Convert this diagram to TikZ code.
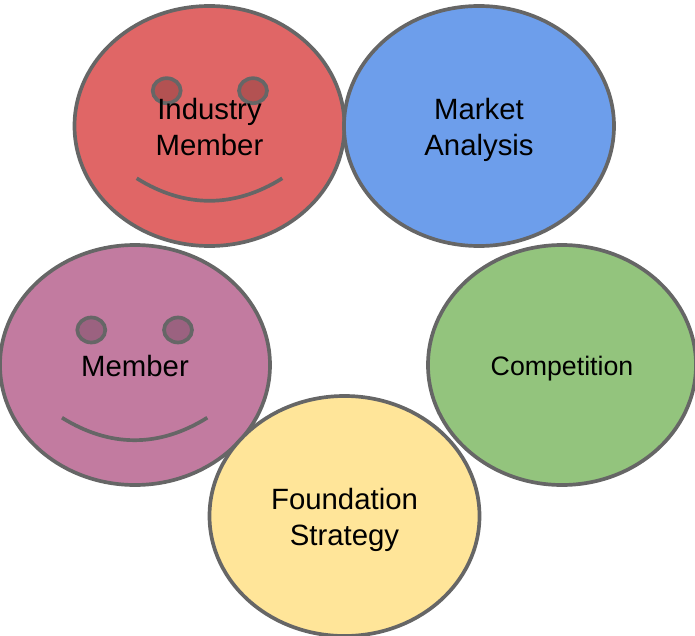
\documentclass[tikz,border=0pt]{standalone}
\usepackage{fontspec}
\setmainfont{Liberation Sans}
\usetikzlibrary{shapes.geometric}
\definecolor{edgegray}{HTML}{666666}
\definecolor{facered}{HTML}{E06666}
\definecolor{faceblue}{HTML}{6D9EEB}
\definecolor{facepurple}{HTML}{C27BA0}
\definecolor{facegreen}{HTML}{93C47D}
\definecolor{faceyellow}{HTML}{FFE599}
\definecolor{eyered}{HTML}{B35252}
\definecolor{eyepurple}{HTML}{9B6280}

\begin{document}
\begin{tikzpicture}[scale=0.2]
            \tikzstyle{face}=[draw=edgegray, line width=2.1pt, ellipse, inner sep=0pt, outer sep=0pt, minimum width=5.4cm, minimum height=4.8cm]
            \tikzstyle{eye}=[draw=edgegray, line width=2.1pt, ellipse, inner sep=0pt, outer sep=0pt, minimum width=0.56cm, minimum height=0.5cm]
            \tikzstyle{facetext}=[inner sep=0pt, align=center, text=black, font=\fontsize{16.7}{20.4}\selectfont]
            \tikzstyle{smile}=[draw=edgegray, line width=2.1pt]
            \useasboundingbox (0,0) rectangle (69.5,-63.6);
            \node [face, fill=facered] (redface) at (20.95,-12.6) {};
            \node [face, fill=faceblue] (blueface) at (47.9,-12.6) {};
            \node [face, fill=facegreen, minimum width=5.36cm] (greenface) at (56.2,-36.5) {};
            \node [face, fill=facepurple] (purpleface) at (13.5,-36.5) {};
            \node [face, fill=faceyellow] (yellowface) at (34.45,-51.6) {};
            \node [eye, fill=eyered] (redeyeleft) at (16.67,-9.07) {};
            \node [eye, fill=eyered] (redeyeright) at (25.3,-9.07) {};
            \node [eye, fill=eyepurple] (purpleeyeleft) at (9.13,-33) {};
            \node [eye, fill=eyepurple] (purpleeyeright) at (17.8,-33) {};
            \coordinate (redsmileleft) at (13.67,-17.83);
            \coordinate (redsmileright) at (28.23,-17.83);
            \coordinate (purplesmileleft) at (6.2,-41.77);
            \coordinate (purplesmileright) at (20.73,-41.77);
            \draw [smile] (redsmileleft) .. controls +(4.8,-3) and +(-4.8,-3) .. (redsmileright);
            \draw [smile] (purplesmileleft) .. controls +(4.8,-3) and +(-4.8,-3) .. (purplesmileright);
            \node [facetext] (redlabel) at (20.95,-12.7) {Industry\\Member};
            \node [facetext] (bluelabel) at (47.9,-13) {Market\\Analysis};
            \node [facetext, font=\fontsize{15.2}{20.4}\selectfont] (greenlabel) at (56.2,-36.85) {Competition};
            \node [facetext] (purplelabel) at (13.5,-36.6) {Member};
            \node [facetext] (yellowlabel) at (34.45,-52) {Foundation\\Strategy};
            \end{tikzpicture}
\end{document}
